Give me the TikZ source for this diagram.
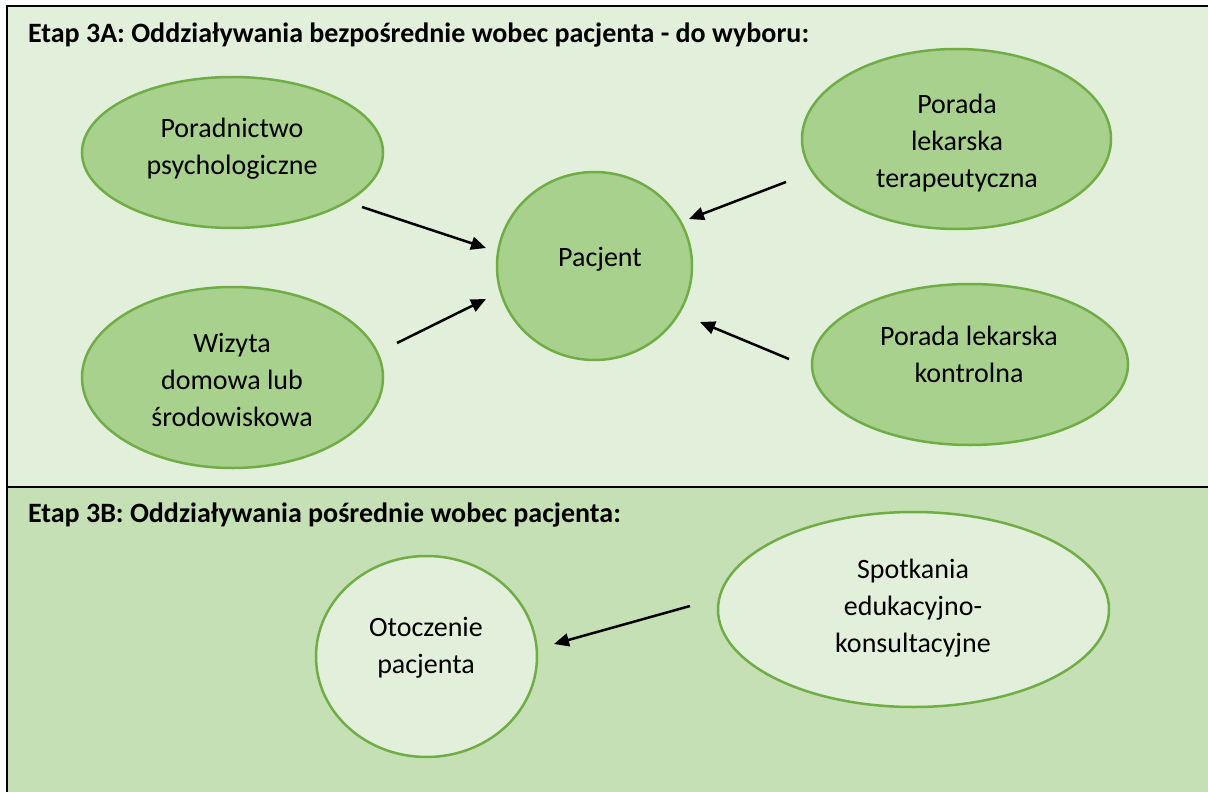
\documentclass[tikz,border=0pt]{standalone}
\usepackage{fontspec}
\setmainfont{Carlito}
\usetikzlibrary{arrows.meta,shapes.geometric}
\definecolor{bgA}{HTML}{E2EFDA}
\definecolor{bgB}{HTML}{C5E0B4}
\definecolor{ellF}{HTML}{A9D18E}
\definecolor{ellD}{HTML}{70AD47}
\tikzset{
  ell/.style={ellipse, draw=ellD, line width=2.5pt, fill=ellF, inner sep=0pt},
  ellight/.style={ell, fill=bgA},
  lbl/.style={anchor=base, align=center, font=\fontsize{28}{37}\selectfont, inner sep=0pt},
  ttl/.style={anchor=base west, font=\fontsize{28}{33}\selectfont\bfseries, inner sep=0pt},
  arr/.style={line width=2.5pt, -{Triangle[length=15pt,width=13pt]}},
  frame/.style={line width=1.8pt, black}
}
\begin{document}
\begin{tikzpicture}[x=1pt,y=-1pt]
\useasboundingbox (0,0) rectangle (1208,792);
\fill[white] (0,0) rectangle (1208,792);
\fill[bgA] (7,6) rectangle (1208,487);
\fill[bgB] (7,487) rectangle (1208,792);
\draw[frame] (7,792) -- (7,6) -- (1208,6);
\draw[line width=2.2pt] (7,487) -- (1208,487);

\node[ttl] (t1) at (28,43) {Etap 3A: Oddziaływania bezpośrednie wobec pacjenta - do wyboru:};
\node[ttl] (t2) at (28,522) {Etap 3B: Oddziaływania pośrednie wobec pacjenta:};

\node[ell, minimum width=301pt, minimum height=151pt] (e1) at (232.5,152.5) {};
\node[ell, minimum width=195pt, minimum height=188pt] (e2) at (594.5,266) {};
\node[ell, minimum width=301pt, minimum height=181pt] (e3) at (232.5,377.5) {};
\node[ell, minimum width=309pt, minimum height=180pt] (e4) at (956.5,139) {};
\node[ell, minimum width=316pt, minimum height=161pt] (e5) at (970,364.5) {};
\node[ellight, minimum width=221pt, minimum height=201pt] (e6) at (426.5,656.5) {};
\node[ellight, minimum width=391pt, minimum height=195pt] (e7) at (913.5,609.5) {};

\node[lbl] (l1) at (232,174) {Poradnictwo\\psychologiczne};
\node[lbl] (l2) at (600,266) {Pacjent};
\node[lbl] (l3) at (232,426) {Wizyta\\domowa lub\\środowiskowa};
\node[lbl] (l4) at (957,187) {Porada\\lekarska\\terapeutyczna};
\node[lbl] (l5) at (969,382) {Porada lekarska\\kontrolna};
\node[lbl] (l6) at (426,673) {Otoczenie\\pacjenta};
\node[lbl] (l7) at (913,652) {Spotkania\\edukacyjno-\\konsultacyjne};

\coordinate (a1s) at (362,207); \coordinate (a1e) at (486,248);
\coordinate (a2s) at (397,343); \coordinate (a2e) at (486,299);
\coordinate (a3s) at (786,182); \coordinate (a3e) at (689,219);
\coordinate (a4s) at (789,359); \coordinate (a4e) at (700,322);
\coordinate (a5s) at (690,606); \coordinate (a5e) at (554,644);
\draw[arr] (a1s) -- (a1e);
\draw[arr] (a2s) -- (a2e);
\draw[arr] (a3s) -- (a3e);
\draw[arr] (a4s) -- (a4e);
\draw[arr] (a5s) -- (a5e);
\end{tikzpicture}
\end{document}
